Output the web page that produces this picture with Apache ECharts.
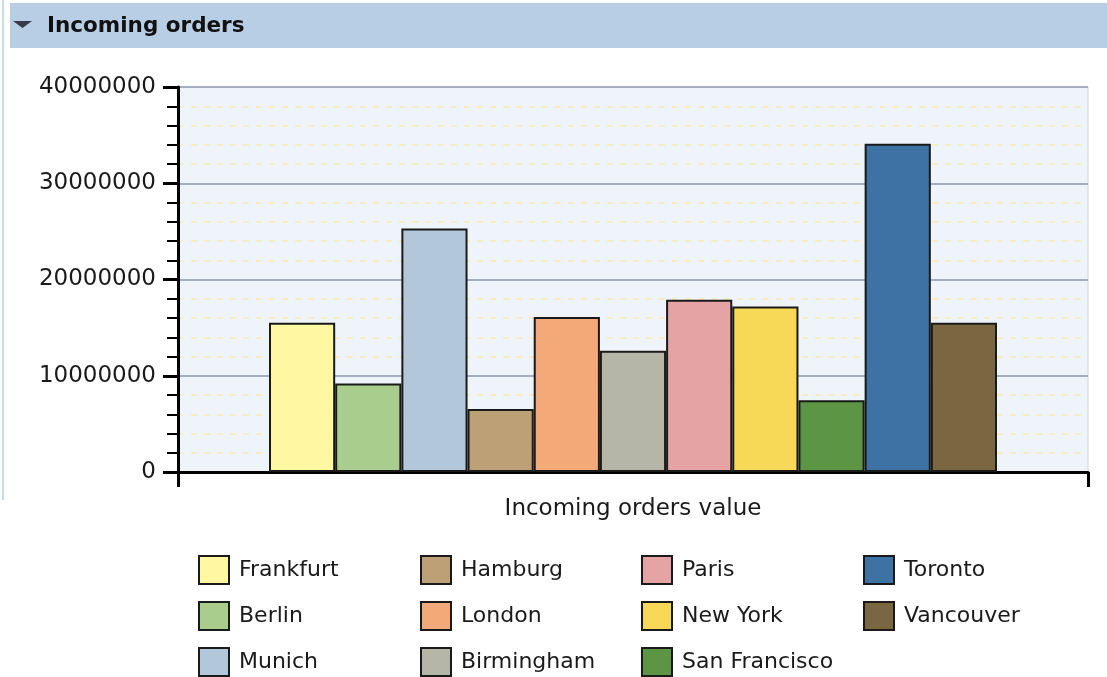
<!DOCTYPE html>
<html>
<head>
<meta charset="utf-8">
<script src="https://cdn.jsdelivr.net/npm/echarts@6/dist/echarts.min.js"></script>
<style>
  html, body { margin: 0; padding: 0; background: #fff; }
  #chart { width: 1107px; height: 677px; }
</style>
</head>
<body>
<div id="chart"></div>
<script>
const categories = ['Incoming orders value']
const cities = ['Frankfurt', 'Berlin', 'Munich', 'Hamburg', 'London', 'Birmingham',
  'Paris', 'New York', 'San Francisco', 'Toronto', 'Vancouver']
const values = [15500000, 9200000, 25300000, 6550000, 16100000, 12600000,
  17900000, 17200000, 7450000, 34100000, 15500000]

const palette = ['#FFF7A1', '#A9CD8D', '#B3C7DA', '#BEA077', '#F3AA78', '#B5B5A8',
  '#E6A3A3', '#F7D857', '#5C9644', '#3E72A4', '#7A6641']

const chart = echarts.init(document.getElementById('chart'))
const font = 'DejaVu Sans'

// legend is laid out in 4 columns of 3
const legendCols = [198, 420, 641, 863]
const legends = legendCols.map((x, i) => ({
  orient: 'vertical',
  left: x,
  top: 555,
  padding: 0,
  itemWidth: 30,
  itemHeight: 28,
  itemGap: 16,
  icon: 'rect',
  selectedMode: false,
  data: cities.slice(i * 3, i * 3 + 3),
  itemStyle: { borderColor: '#1a1a1a', borderWidth: 2 },
  textStyle: { fontFamily: font, fontSize: 22, color: '#1a1a1a', padding: [0, 0, 0, 5] }
}))

chart.setOption({
  animation: false,
  backgroundColor: '#fff',
  title: {
    text: 'Incoming orders',
    left: 47,
    top: 15,
    padding: 0,
    textStyle: { fontFamily: font, fontSize: 21.5, fontWeight: 'bold', color: '#111' }
  },
  graphic: [
    { type: 'rect', z: -1, shape: { x: 10, y: 3, width: 1097, height: 45 }, style: { fill: '#B8CEE5' } },
    { type: 'rect', z: -1, shape: { x: 2, y: 0, width: 2, height: 500 }, style: { fill: '#C9DAEC' } },
    { type: 'polygon', shape: { points: [[13, 21], [32, 21], [22.5, 28]] }, style: { fill: '#3a3a4a' } }
  ],
  legend: legends,
  grid: {
    left: 178,
    right: 19,
    top: 87,
    bottom: 205,
    show: true,
    backgroundColor: '#EEF4FA',
    borderColor: '#D4D4D4',
    borderWidth: 1
  },
  xAxis: {
    type: 'category',
    data: categories,
    axisLine: { lineStyle: { color: '#000', width: 3 } },
    axisTick: { show: true, length: 15, lineStyle: { color: '#000', width: 3 } },
    axisLabel: { fontFamily: font, fontSize: 23, color: '#1a1a1a', margin: 26 }
  },
  yAxis: {
    type: 'value',
    min: 0,
    max: 40000000,
    interval: 10000000,
    axisLine: { show: true, lineStyle: { color: '#000', width: 3 } },
    axisTick: { show: true, length: 15, lineStyle: { color: '#000', width: 3 } },
    minorTick: { show: true, splitNumber: 5, length: 11, lineStyle: { color: '#000', width: 2 } },
    axisLabel: {
      fontFamily: font, fontSize: 23, color: '#1a1a1a', margin: 22,
      padding: [8, 0, 0, 0], formatter: v => String(v)
    },
    splitLine: { lineStyle: { color: '#A3AFC0', width: 2 } },
    minorSplitLine: { show: true, lineStyle: { color: '#F6EDC6', width: 2, type: [6, 7] } }
  },
  series: cities.map((name, i) => ({
    name: name,
    type: 'bar',
    data: [values[i]],
    barGap: '0%',
    barCategoryGap: '20%',
    itemStyle: { color: palette[i], borderColor: '#1a1a1a', borderWidth: 2 }
  }))
})
</script>
</body>
</html>
